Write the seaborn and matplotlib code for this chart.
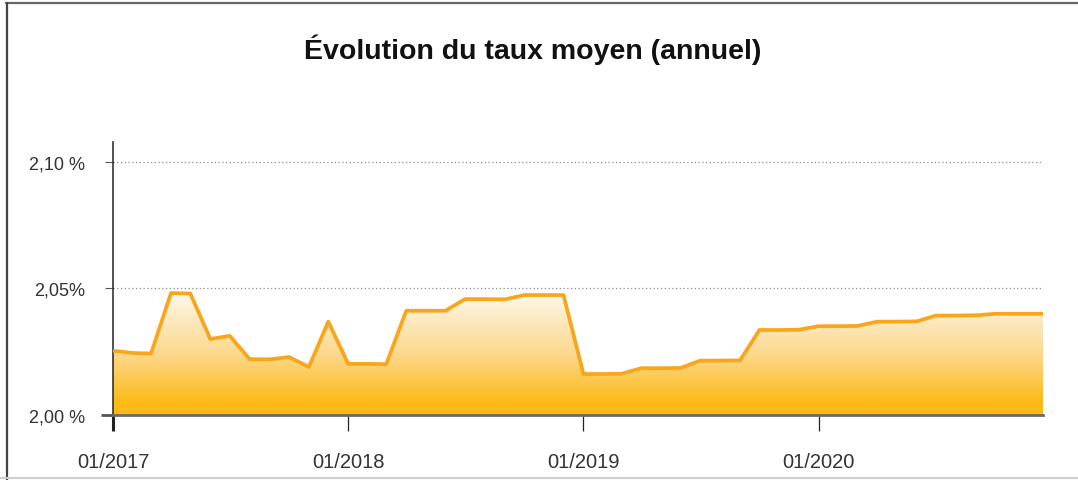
import numpy as np
import pandas as pd
import matplotlib
matplotlib.use("Agg")
import matplotlib.pyplot as plt
import matplotlib.dates as mdates
from matplotlib.colors import LinearSegmentedColormap
from matplotlib.lines import Line2D
import seaborn as sns

# ---- data ----
dates = list(pd.date_range("2017-01-01", "2020-12-01", freq="MS")) + [pd.Timestamp("2020-12-14")]
rates = [2.0254, 2.0245, 2.0243, 2.0482, 2.0480, 2.0300, 2.0313, 2.0221, 2.0220, 2.0229, 2.0190, 2.0369,
         2.0202, 2.0202, 2.0201, 2.0412, 2.0412, 2.0412, 2.0458, 2.0458, 2.0457, 2.0474, 2.0474, 2.0474,
         2.0162, 2.0162, 2.0163, 2.0185, 2.0185, 2.0186, 2.0215, 2.0215, 2.0216, 2.0336, 2.0336, 2.0337,
         2.0351, 2.0351, 2.0352, 2.0369, 2.0369, 2.0370, 2.0393, 2.0393, 2.0394, 2.0400, 2.0400, 2.0400,
         2.0400]
y_ticks = [2.00, 2.05, 2.10]
y_labels = ["2,00 %", "2,05%", "2,10 %"]
x_ticks = ["2017-01-01", "2018-01-01", "2019-01-01", "2020-01-01"]
x_labels = ["01/2017", "01/2018", "01/2019", "01/2020"]
title = "Évolution du taux moyen (annuel)"

df = pd.DataFrame({"date": dates, "taux": rates})

sns.set_style("white")
plt.rcParams["font.family"] = ["Liberation Sans", "DejaVu Sans"]

W, H = 1078, 481
fig = plt.figure(figsize=(W / 100, H / 100), dpi=100)
ax = fig.add_axes([113 / W, (H - 416) / H, (1043 - 113) / W, (416 - 143) / H])

ymin, ymax = 2.0, 2.1079
xmin, xmax = df["date"].iloc[0], df["date"].iloc[-1]

# gradient fill under curve
cmap = LinearSegmentedColormap.from_list(
    "g", [(0.0, "#fdb813"), (0.12, "#fdbb1c"), (0.5, "#fcd98f"), (1.0, "#fef8ec")])
grad = np.linspace(0, 1, 256).reshape(-1, 1)
top = max(rates) + 0.0005
im = ax.imshow(grad, aspect="auto", cmap=cmap, origin="lower",
               extent=[mdates.date2num(xmin), mdates.date2num(xmax), ymin, top], zorder=1)
poly = ax.fill_between(df["date"], ymin, df["taux"], color="none", lw=0)
path = poly.get_paths()[0]
im.set_clip_path(path, transform=ax.transData)

sns.lineplot(data=df, x="date", y="taux", ax=ax, color="#f9a61c", lw=2.7, zorder=3,
             solid_joinstyle="round", solid_capstyle="butt")

ax.set_xlim(xmin, xmax)
ax.set_ylim(ymin, ymax)

# grid
for yv in y_ticks[1:]:
    ax.axhline(yv, color="#8c8c8c", lw=0.9, ls=(0, (1, 2)), zorder=0)

# spines
for s in ["top", "right"]:
    ax.spines[s].set_visible(False)
ax.spines["left"].set_color("#333333")
ax.spines["left"].set_linewidth(1.2)
ax.spines["bottom"].set_color("#6a6a6a")
ax.spines["bottom"].set_linewidth(2)
ax.spines["bottom"].set_zorder(4)

ax.set_yticks(y_ticks)
ax.set_yticklabels(y_labels)
ax.set_xticks(pd.to_datetime(x_ticks))
ax.set_xticklabels(x_labels)
ax.set_xlabel("")
ax.set_ylabel("")

ax.tick_params(axis="y", length=6, width=0.8, color="#555555", pad=14,
               labelsize=13, labelcolor="#333333", direction="out", left=True)
ax.tick_params(axis="x", length=11.5, width=0.9, color="#222222", pad=15,
               labelsize=14.5, labelcolor="#333333", direction="out", bottom=True)
# emphasised ticks at origin
yt0 = ax.yaxis.get_major_ticks()[0]
yt0.tick1line.set_markersize(9)
yt0.tick1line.set_markeredgewidth(2)
yt0.tick1line.set_color("#222222")
xt0 = ax.xaxis.get_major_ticks()[0]
xt0.tick1line.set_markeredgewidth(2.2)

fig.text(533 / W, 1 - 50 / H, title, ha="center", va="center",
         fontsize=20.5, fontweight="bold", color="#111111")

# frame
fig.add_artist(Line2D([6 / W, 1], [1 - 3.5 / H, 1 - 3.5 / H], transform=fig.transFigure,
                      color="#666666", lw=1.6))
fig.add_artist(Line2D([6.5 / W, 6.5 / W], [0, 1 - 3.5 / H], transform=fig.transFigure,
                      color="#444444", lw=1.6))
fig.add_artist(Line2D([0, 1], [2 / H, 2 / H], transform=fig.transFigure,
                      color="#cfcfcf", lw=1.5))

fig.savefig("out.png", dpi=100)
